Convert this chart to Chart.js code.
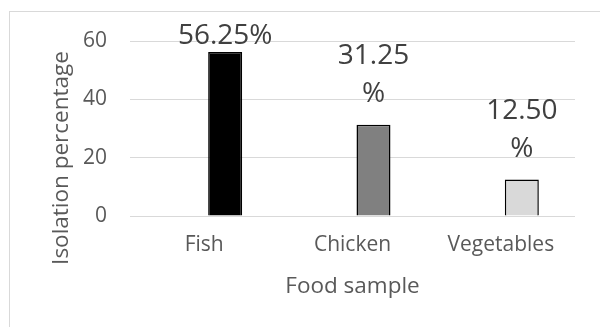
<!doctype html>
<html lang="en">
<head>
<meta charset="utf-8">
<title>Isolation percentage by food sample</title>
<script src="https://cdn.jsdelivr.net/npm/chart.js@4/dist/chart.umd.min.js"></script>
<style>
  html, body { margin: 0; padding: 0; background: #fff; overflow: hidden; }
  .chartBox { position: relative; width: 600px; height: 327px; }
</style>
</head>
<body>
<div class="chartBox">
  <canvas id="isoChart" width="600" height="327"></canvas>
</div>

<script>
// categories and values
const foodSamples  = ["Fish", "Chicken", "Vegetables"];
const isolationPct = [56.25, 31.25, 12.50];
const barFills     = ["#000000", "#808080", "#d9d9d9"];
const yTicks       = [0, 20, 40, 60];
// labels that wrap the % sign onto its own line
const labelWrap    = [false, true, true];
// empty first series, keeps the bars to the right of each tick
const emptySeries  = [null, null, null];

const fontFam = "'Open Sans', 'Noto Sans', sans-serif";

// frame + y title + value labels
const extras = {
  id: "extras",
  beforeDraw(chart) {
    const ctx = chart.ctx;
    ctx.save();
    ctx.fillStyle = "#fff";
    ctx.fillRect(0, 0, chart.width, chart.height);
    ctx.strokeStyle = "#d9d9d9";
    ctx.lineWidth = 1;
    ctx.strokeRect(9.5, 11.5, 700, 400);
    ctx.restore();
  },
  afterDatasetsDraw(chart) {
    const ctx = chart.ctx;
    const area = chart.chartArea;
    const meta = chart.getDatasetMeta(1);
    ctx.save();
    ctx.font = "28px " + fontFam;
    ctx.fillStyle = "#404040";
    ctx.textAlign = "center";
    ctx.textBaseline = "middle";
    meta.data.forEach(function(bar, i) {
      let v = isolationPct[i].toFixed(2);
      let lines = labelWrap[i] ? [v, "%"] : [v + "%"];
      let lh = 38;
      let first = bar.y - 31 - (lines.length - 1) * lh;
      if (first < area.top - 5) first = area.top - 5;
      lines.forEach(function(t, k) {
        ctx.fillText(t, bar.x, first + k * lh);
      });
    });
    // y axis title
    ctx.font = "22.5px " + fontFam;
    ctx.fillStyle = "#595959";
    ctx.translate(62, 158);
    ctx.rotate(-Math.PI / 2);
    ctx.fillText("Isolation percentage", 0, 0);
    ctx.restore();
  }
};

new Chart("isoChart", {
  type: "bar",
  data: {
    labels: foodSamples,
    datasets: [
      { label: "", data: emptySeries },
      {
        label: "Isolation percentage",
        data: isolationPct,
        backgroundColor: barFills,
        borderColor: "#000000",
        borderWidth: 1.5
      }
    ]
  },
  options: {
    responsive: false,
    animation: false,
    categoryPercentage: 0.566,
    barPercentage: 0.81,
    layout: { padding: { left: 0, top: 41, right: 25, bottom: 0 } },
    plugins: {
      legend: { display: false },
      tooltip: { enabled: false }
    },
    scales: {
      x: {
        grid: { display: false, drawTicks: false },
        border: { display: false },
        ticks: {
          color: "#595959",
          font: { family: fontFam, size: 21 },
          padding: 16
        },
        title: {
          display: true,
          text: "Food sample",
          color: "#595959",
          font: { family: fontFam, size: 22.5 },
          padding: { top: 0, bottom: 27 }
        },
        afterFit(scale) { scale.height = 111; }
      },
      y: {
        min: 0,
        max: 60,
        afterBuildTicks(scale) { scale.ticks = yTicks.map(v => ({ value: v })); },
        grid: { color: "#d9d9d9", lineWidth: 1, drawTicks: false },
        border: { display: false },
        ticks: {
          color: "#595959",
          font: { family: fontFam, size: 21 },
          padding: 23
        },
        afterFit(scale) { scale.width = 130; }
      }
    }
  },
  plugins: [extras]
});
</script>
</body>
</html>
